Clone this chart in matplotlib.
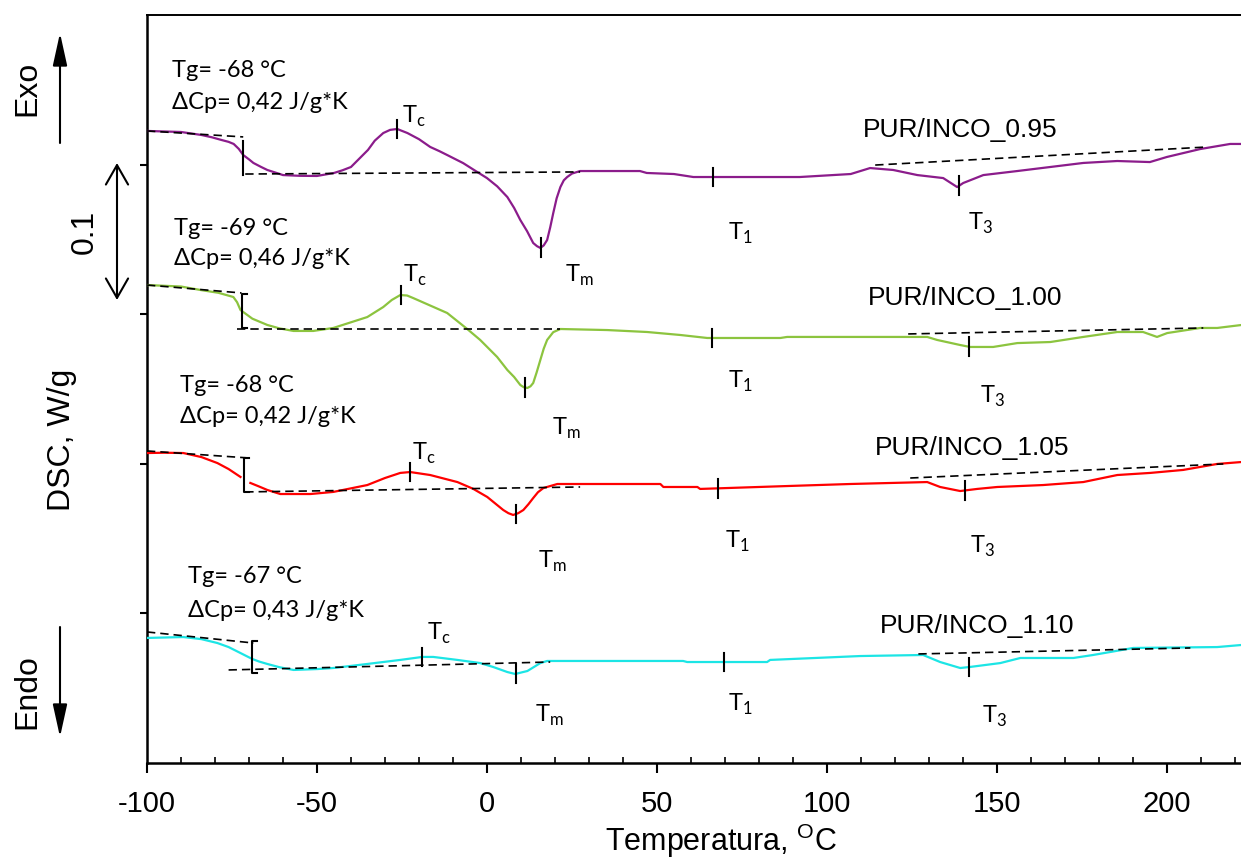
import matplotlib
matplotlib.use("Agg")
import matplotlib.pyplot as plt
from matplotlib.ticker import MultipleLocator
import numpy as np

plt.rcParams["axes.unicode_minus"] = False

# ---- DSC traces (W/g, stacked with vertical offsets) ----
samples = ["PUR/INCO_0.95", "PUR/INCO_1.00", "PUR/INCO_1.05", "PUR/INCO_1.10"]
colors = ["#8B1C8B", "#8CC43F", "#FF0000", "#1CE5E5"]

temp_095 = [-100, -90, -84, -81, -78, -76, -74.5, -73, -71.7, -70, -68.7, -66.5, -64.6, -62,
            -60, -55, -50, -45, -42.5, -40, -35, -33, -30.5, -28.5, -26.4, -23.4, -20, -16.7,
            -14, -11.7, -7, -2.9, 0, 3, 6, 8, 9.8, 11.8, 13.6, 14.7, 15.7, 16.7, 17.7, 18.6,
            19.5, 20.5, 21.6, 22.6, 23.6, 25, 27.4, 45, 47, 55, 60.7, 92, 107, 112.7, 119.5,
            126.6, 134.2, 138.3, 140.1, 146, 156, 165.7, 175.4, 185.4, 195, 200, 209.8,
            218.6, 222]
dsc_095 = [0.4225, 0.4218, 0.4198, 0.4183, 0.4164, 0.4152, 0.4138, 0.4105, 0.4064, 0.4035,
           0.4011, 0.3985, 0.3964, 0.3945, 0.3930, 0.3925, 0.3924, 0.3944, 0.3962, 0.3984,
           0.4098, 0.4160, 0.4211, 0.4232, 0.4238, 0.4211, 0.4170, 0.4118, 0.4090, 0.4064,
           0.4010, 0.3951, 0.3910, 0.3855, 0.3783, 0.3710, 0.3630, 0.3555, 0.3476, 0.3455,
           0.3443, 0.3460, 0.3496, 0.3580, 0.3676, 0.3775, 0.3850, 0.3895, 0.3917, 0.3940,
           0.3957, 0.3957, 0.3944, 0.3937, 0.3917, 0.3917, 0.3937, 0.3977, 0.3964, 0.3930,
           0.3910, 0.3850, 0.3877, 0.3930, 0.3957, 0.3984, 0.4011, 0.4024, 0.4017, 0.4051,
           0.4104, 0.4138, 0.4138]

temp_100 = [-100, -90, -84.3, -79, -74.6, -73.5, -72.5, -69, -64.6, -61, -56.9, -51.1, -45.2,
            -35.2, -30.5, -28, -25.5, -23.5, -21.7, -11.7, -5.8, -2.0, 3.0, 6.0, 8.0, 9.8,
            10.8, 11.9, 12.8, 13.6, 14.6, 15.7, 16.7, 17.7, 19.5, 21.6, 35.4, 47.1, 56.9,
            64.8, 86.3, 88.3, 129.5, 132.4, 139.2, 142.1, 148.9, 156.0, 165.7, 175.4, 185.4,
            193.0, 197.1, 200.1, 209.8, 214.8, 222]
dsc_100 = [0.3195, 0.3185, 0.3162, 0.3143, 0.3115, 0.3080, 0.3028, 0.2970, 0.2928, 0.2905,
           0.2888, 0.2888, 0.2908, 0.2981, 0.3048, 0.3095, 0.3128, 0.3125, 0.3108, 0.3008,
           0.2901, 0.2828, 0.2714, 0.2627, 0.2580, 0.2527, 0.2512, 0.2507, 0.2518, 0.2540,
           0.2610, 0.2694, 0.2770, 0.2828, 0.2880, 0.2901, 0.2894, 0.2881, 0.2861, 0.2841,
           0.2841, 0.2848, 0.2848, 0.2828, 0.2794, 0.2781, 0.2781, 0.2807, 0.2814, 0.2848,
           0.2881, 0.2881, 0.2848, 0.2874, 0.2908, 0.2908, 0.2928]

temp_105 = [-100, -95, -89.3, -84, -79.3, -76, -72.5, -71.0, -69.6, -67, -64.6, -60.8, -51.9,
            -45.2, -35.2, -30, -25.5, -22.6, -16.7, -8.7, -4.0, 0.1, 4.8, 6.3, 7.7, 9.2, 10.7,
            12.2, 13.6, 15.0, 16.6, 20.7, 51.0, 51.9, 61.9, 62.7, 89.2, 106.9, 129.5, 133.3,
            139.2, 144.2, 150.1, 163.6, 175.4, 185.4, 195.1, 204.8, 214.8, 222]
dsc_105 = [0.2072, 0.2074, 0.2072, 0.2045, 0.2005, 0.1965, 0.1912, np.nan, 0.1872, 0.1848,
           0.1825, 0.1798, 0.1798, 0.1812, 0.1858, 0.1905, 0.1939, 0.1945, 0.1925, 0.1878,
           0.1832, 0.1778, 0.1691, 0.1670, 0.1658, 0.1670, 0.1691, 0.1730, 0.1771, 0.1810,
           0.1838, 0.1865, 0.1865, 0.1845, 0.1845, 0.1832, 0.1852, 0.1865, 0.1878, 0.1845,
           0.1818, 0.1832, 0.1845, 0.1858, 0.1878, 0.1925, 0.1939, 0.1959, 0.1999, 0.2012]

temp_110 = [-100, -89.3, -84, -79.3, -76, -72.5, -70.5, -69.0, -67, -64.6, -61, -56.9, -49.9,
            -45.2, -35.2, -25.5, -19.0, -15.8, -8.7, -2.0, 1.8, 6.0, 8.3, 11.9, 15.7, 17.7,
            57.7, 58.9, 82.4, 83.3, 109.8, 128.3, 133.3, 139.2, 142.1, 151.0, 156.9, 172.5,
            178.3, 190.1, 214.8, 222]
dsc_110 = [0.0836, 0.0842, 0.0828, 0.0802, 0.0775, 0.0735, 0.0712, 0.0695, 0.0678, 0.0662,
           0.0640, 0.0622, 0.0628, 0.0635, 0.0662, 0.0689, 0.0709, 0.0709, 0.0689, 0.0668,
           0.0642, 0.0608, 0.0595, 0.0615, 0.0668, 0.0682, 0.0682, 0.0675, 0.0675, 0.0689,
           0.0715, 0.0722, 0.0675, 0.0635, 0.0642, 0.0668, 0.0702, 0.0702, 0.0722, 0.0769,
           0.0775, 0.0789]

temps = [temp_095, temp_100, temp_105, temp_110]
signals = [dsc_095, dsc_100, dsc_105, dsc_110]

# ---- glass transition results ----
tg_values = [-68, -69, -68, -67]
dcp_values = ["0,42", "0,46", "0,42", "0,43"]
tg_step_temp = [-71.7, -72.2, -71.6, -69.0]
tg_step_top = [0.4158, 0.3135, 0.2039, 0.0816]
tg_step_bottom = [0.3930, 0.2908, 0.1812, 0.0602]

# tangent lines: (T start, T end), (signal start, signal end)
glass_upper_t = [(-100, -71.7), (-100, -72.2), (-100, -70.1), (-100, -68.7)]
glass_upper_y = [(0.4225, 0.4185), (0.3195, 0.3142), (0.2086, 0.2039), (0.0876, 0.0802)]
glass_lower_t = [(-71.1, 27.4), (-73.4, 21.6), (-71.1, 27.4), (-76.0, 18.6)]
glass_lower_y = [(0.3937, 0.3951), (0.2901, 0.2901), (0.1812, 0.1845), (0.0622, 0.0675)]
t3_base_t = [(114.2, 212.0), (123.9, 210.7), (124.5, 216.6), (126.9, 206.9)]
t3_base_y = [(0.3997, 0.4118), (0.2868, 0.2908), (0.1905, 0.1999), (0.0729, 0.0769)]

# ---- characteristic temperatures ----
tc_temp = [-26.4, -25.2, -22.6, -19.0]
tm_temp = [15.9, 11.3, 8.6, 8.6]
t1_temp = [66.6, 66.3, 67.9, 69.8]
t3_temp = [138.9, 141.8, 140.5, 141.8]

# label anchors (left edge, baseline)
tg_text_pos = [(-92.5, 0.4586), (-92.2, 0.3529), (-90.2, 0.2480), (-87.9, 0.1203)]
dcp_text_pos = [(-92.5, 0.4372), (-92.2, 0.3329), (-90.2, 0.2273), (-87.9, 0.0976)]
name_pos = [(110.7, 0.4184), (111.9, 0.3061), (114.2, 0.2059), (115.7, 0.0869)]
tc_label_pos = [(-24.9, 0.4278), (-24.6, 0.3215), (-22.0, 0.2025), (-17.6, 0.0822)]
tm_label_pos = [(23.0, 0.3215), (19.2, 0.2193), (15.1, 0.1303), (14.2, 0.0274)]
t1_label_pos = [(71.0, 0.3496), (71.0, 0.2507), (70.1, 0.1437), (71.0, 0.0348)]
t3_label_pos = [(141.6, 0.3563), (145.1, 0.2406), (142.1, 0.1404), (145.7, 0.0267)]

W, H = 1241, 859
fig = plt.figure(figsize=(W / 100, H / 100), dpi=100)
ax = fig.add_axes([147 / W, 1 - 763 / H, 1 - 147 / W, (763 - 15) / H])
ax.set_xlim(-100, 221.8)
ax.set_ylim(0, 0.5)

note_font = ["Lato", "DejaVu Sans"]
sans = ["Liberation Sans", "DejaVu Sans"]
dash = dict(color="black", lw=1.2, dashes=(5, 3))
mark_half = 0.0062

for i in range(4):
    t = np.array(temps[i], dtype=float)
    s = np.array(signals[i], dtype=float)
    ax.plot(t, s, color=colors[i], lw=1.6, zorder=3, solid_joinstyle="round")

    ax.plot(glass_upper_t[i], glass_upper_y[i], zorder=4, **dash)
    ax.plot(glass_lower_t[i], glass_lower_y[i], zorder=4, **dash)
    ax.plot(t3_base_t[i], t3_base_y[i], zorder=4, **dash)

    tgx = tg_step_temp[i]
    if i == 0:
        ax.plot([tgx, tgx], [tg_step_top[i], tg_step_bottom[i]], color="black", lw=1.5, zorder=5)
    else:
        ax.plot([tgx + 1.5, tgx, tgx, tgx + 1.5],
                [tg_step_top[i], tg_step_top[i], tg_step_bottom[i], tg_step_bottom[i]],
                color="black", lw=1.5, zorder=5)

    ok = ~np.isnan(s)
    for tx in (tc_temp[i], tm_temp[i], t1_temp[i], t3_temp[i]):
        yc = np.interp(tx, t[ok], s[ok])
        ax.plot([tx, tx], [yc - mark_half, yc + mark_half], color="black", lw=1.5, zorder=5)

    ax.text(*tg_text_pos[i], f"Tg= {tg_values[i]} \u00b0C", family=note_font,
            fontsize=17, ha="left", va="baseline")
    ax.text(*dcp_text_pos[i], f"\u0394Cp= {dcp_values[i]} J/g*K", family=note_font,
            fontsize=17, ha="left", va="baseline")
    ax.text(*name_pos[i], samples[i], family=sans, fontsize=19, ha="left", va="baseline")

    for pos, sub in ((tc_label_pos[i], "c"), (tm_label_pos[i], "m"),
                     (t1_label_pos[i], "1"), (t3_label_pos[i], "3")):
        ax.text(*pos, "T$_{\\mathregular{%s}}$" % sub, family=note_font, fontsize=17,
                ha="left", va="baseline")

# axes styling
ax.spines["right"].set_visible(False)
ax.spines["left"].set_linewidth(1.8)
ax.spines["bottom"].set_linewidth(1.8)
ax.spines["top"].set_linewidth(1.4)

ax.set_xticks(np.arange(-100, 201, 50))
ax.xaxis.set_minor_locator(MultipleLocator(10))
ax.tick_params(axis="x", which="major", direction="out", length=7.5, width=1.5,
               labelsize=21, pad=12)
ax.tick_params(axis="x", which="minor", direction="in", length=4, width=1.2)
for lab in ax.get_xticklabels():
    lab.set_family(sans)

ax.set_yticks([0.1, 0.2, 0.3, 0.4])
ax.tick_params(axis="y", which="major", direction="out", length=5, width=1.5, labelleft=False)

ax.set_xlabel("Temperatura, $^{\\mathregular{O}}$C", family=sans, fontsize=22, va="baseline")
ax.xaxis.set_label_coords((721 - 147) / 1094, (763 - 851) / 748)
ax.set_ylabel("DSC, W/g", family=sans, fontsize=23, va="center")
ax.yaxis.set_label_coords((62 - 147) / 1094, (763 - 440) / 748)


def fpx(x, y):
    return (x / W, 1 - y / H)


# heat-flow direction and scale bar
fig.text(*fpx(27, 88), "Exo", rotation=90, ha="center", va="center", family=sans, fontsize=23)
fig.text(*fpx(27, 692), "Endo", rotation=90, ha="center", va="center", family=sans, fontsize=23)
fig.text(*fpx(85, 232), "0.1", rotation=90, ha="center", va="center", family=sans, fontsize=23)

arrow_kw = dict(xycoords="figure fraction", textcoords="figure fraction")
ax.annotate("", xy=fpx(60, 33), xytext=fpx(60, 143), **arrow_kw,
            arrowprops=dict(arrowstyle="-|>,head_length=1.0,head_width=0.22",
                            mutation_scale=20, color="black", lw=1.5,
                            shrinkA=0, shrinkB=0))
ax.annotate("", xy=fpx(60, 737), xytext=fpx(60, 627), **arrow_kw,
            arrowprops=dict(arrowstyle="-|>,head_length=1.0,head_width=0.22",
                            mutation_scale=20, color="black", lw=1.5,
                            shrinkA=0, shrinkB=0))
ax.annotate("", xy=fpx(117, 163), xytext=fpx(117, 300), **arrow_kw,
            arrowprops=dict(arrowstyle="<->,head_length=0.7,head_width=0.4",
                            mutation_scale=20, color="black", lw=1.5,
                            shrinkA=0, shrinkB=0))

fig.savefig("out.png", dpi=100)
